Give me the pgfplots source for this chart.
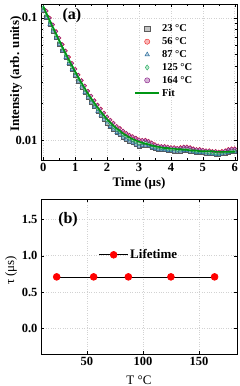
\documentclass[border=0pt]{standalone}
\usepackage{fontspec}
\setmainfont{Liberation Serif}
\usepackage{pgfplots}
\usepackage{pgfplotstable}
\pgfplotsset{compat=1.18}

\definecolor{c23}{RGB}{90,90,90}
\definecolor{c56}{RGB}{235,30,30}
\definecolor{c87}{RGB}{30,100,150}
\definecolor{c125}{RGB}{30,170,90}
\definecolor{c164}{RGB}{130,20,130}
\definecolor{fitc}{RGB}{0,150,20}

\pgfplotstableread{
t b hi lo mid
0.0 0.1239 0.1301 0.1152 0.1214
0.1 0.1087 0.1141 0.1011 0.1065
0.2 0.0954 0.1002 0.0887 0.0935
0.3 0.0839 0.0881 0.0780 0.0822
0.4 0.0739 0.0776 0.0687 0.0724
0.5 0.0653 0.0686 0.0607 0.0640
0.6 0.0577 0.0606 0.0537 0.0565
0.7 0.0512 0.0538 0.0476 0.0502
0.8 0.0455 0.0478 0.0423 0.0446
0.9 0.0406 0.0426 0.0378 0.0398
1.0 0.0363 0.0381 0.0338 0.0356
1.1 0.0325 0.0341 0.0302 0.0319
1.2 0.0293 0.0308 0.0272 0.0287
1.3 0.0265 0.0278 0.0246 0.0260
1.4 0.0240 0.0252 0.0223 0.0235
1.5 0.0219 0.0230 0.0204 0.0215
1.6 0.0201 0.0211 0.0187 0.0197
1.7 0.0185 0.0194 0.0172 0.0181
1.8 0.0171 0.0180 0.0159 0.0168
1.9 0.0159 0.0167 0.0148 0.0156
2.0 0.0148 0.0155 0.0138 0.0145
2.1 0.0139 0.0146 0.0129 0.0136
2.2 0.0131 0.0138 0.0122 0.0128
2.3 0.0124 0.0130 0.0115 0.0122
2.4 0.0119 0.0125 0.0111 0.0117
2.5 0.0113 0.0119 0.0105 0.0111
2.6 0.0109 0.0114 0.0101 0.0107
2.7 0.0105 0.0110 0.0098 0.0103
2.8 0.0102 0.0107 0.0095 0.0100
2.9 0.0099 0.0104 0.0092 0.0097
3.0 0.0097 0.0101 0.0089 0.0094
3.1 0.0095 0.0100 0.0090 0.0095
3.2 0.0093 0.0100 0.0091 0.0096
3.3 0.0092 0.0098 0.0090 0.0094
3.4 0.0090 0.0095 0.0087 0.0091
3.5 0.0089 0.0092 0.0085 0.0088
3.6 0.0088 0.0090 0.0084 0.0087
3.7 0.0087 0.0089 0.0083 0.0086
3.8 0.0086 0.0089 0.0083 0.0086
3.9 0.0086 0.0088 0.0082 0.0085
4.0 0.0085 0.0087 0.0082 0.0084
4.1 0.0085 0.0087 0.0081 0.0084
4.2 0.0084 0.0086 0.0081 0.0083
4.3 0.0084 0.0087 0.0081 0.0084
4.4 0.0083 0.0088 0.0082 0.0085
4.5 0.0083 0.0088 0.0082 0.0085
4.6 0.0082 0.0087 0.0081 0.0084
4.7 0.0082 0.0085 0.0080 0.0082
4.8 0.0082 0.0084 0.0079 0.0081
4.9 0.0081 0.0084 0.0079 0.0081
5.0 0.0081 0.0083 0.0079 0.0081
5.1 0.0081 0.0082 0.0078 0.0080
5.2 0.0081 0.0082 0.0077 0.0079
5.3 0.0081 0.0081 0.0077 0.0079
5.4 0.0080 0.0081 0.0076 0.0078
5.5 0.0080 0.0080 0.0076 0.0078
5.6 0.0080 0.0081 0.0077 0.0079
5.7 0.0080 0.0082 0.0078 0.0080
5.8 0.0080 0.0084 0.0079 0.0081
5.9 0.0080 0.0085 0.0080 0.0082
6.0 0.0080 0.0085 0.0080 0.0083
}\decay

\pgfplotstableread{
T tau
23 0.71
56 0.71
87 0.71
125 0.71
164 0.71
}\life

\pgfplotsset{
  common/.style={
    scale only axis,
    axis line style={line width=0.8pt},
    tick align=inside,
    tick style={black, line width=0.5pt},
    major tick length=3pt, minor tick length=1.8pt,
    /pgf/number format/assume math mode=true,
    ticklabel style={font=\bfseries\fontsize{12.5}{14}\selectfont},
    grid=major,
    grid style={gray!35, dotted, line width=0.6pt},
  },
  markleg/.style={legend image code/.code={
    \draw[mark repeat=2,mark phase=2,##1,mark size=2.6pt] plot coordinates {(0cm,0cm) (0.42cm,0cm) (0.84cm,0cm)};}},
  fitleg/.style={legend image code/.code={
    \draw[fitc, line width=1.8pt] (0cm,0cm) -- (0.84cm,0cm);}},
  lifeleg/.style={legend image code/.code={
    \draw[mark repeat=2,mark phase=2,##1] plot coordinates {(0cm,0cm) (0.5cm,0cm) (1cm,0cm)};}},
  fitline/.style={draw=fitc, line width=1.6pt, mark=none, fitleg},
}

\begin{document}
\begin{tikzpicture}
\begin{semilogyaxis}[common,
  set layers,
  at={(41pt,226pt)}, anchor=south west,
  width=196pt, height=156pt,
  xmin=-0.07, xmax=6.07, ymin=0.00686, ymax=0.130,
  xtick={0,1,2,3,4,5,6}, minor x tick num=1,
  ytick={0.01,0.1}, yticklabels={0.01,0.1},
  xlabel={\bfseries Time (μs)},
  ylabel={\bfseries Intensity (arb. units)},
  label style={font=\bfseries\fontsize{13}{15}\selectfont},
  xlabel style={at={(axis description cs:0.5,-0.147)}, anchor=center},
  ylabel style={at={(axis description cs:-0.128,0.55)}, anchor=center},
  legend style={at={(0.46,0.895)}, anchor=north west, draw=none, fill=none,
    font=\bfseries\fontsize{10.5}{12}\selectfont, row sep=0.4pt,
    legend cell align=left},
]
\addplot[only marks, markleg, mark=square*, mark size=1.8pt, draw=c23, fill=c23!45, fill opacity=0.8] table[x=t,y=lo] {\decay};
\addlegendentry{23 °C}
\addplot[only marks, markleg, mark=*, mark size=1.9pt, draw=c56, fill=c56!40, fill opacity=0.8] table[x=t,y=hi] {\decay};
\addlegendentry{56 °C}
\addplot[only marks, markleg, mark=triangle*, mark size=2.1pt, draw=c87, fill=c87!40, fill opacity=0.8] table[x=t,y=lo] {\decay};
\addlegendentry{87 °C}
\addplot[only marks, markleg, mark=diamond*, mark size=2.0pt, draw=c125, fill=c125!35, fill opacity=0.8] table[x=t,y=mid] {\decay};
\addlegendentry{125 °C}
\addplot[only marks, markleg, mark=*, mark size=1.6pt, draw=c164, fill=c164!40, fill opacity=0.8] table[x=t,y=hi] {\decay};
\addlegendentry{164 °C}
\addplot[fitline, on layer=axis foreground] table[x=t,y=b] {\decay};
\addlegendentry{Fit}
\node[font=\bfseries\fontsize{16}{18}\selectfont] at (rel axis cs:0.158,0.923) {(a)};
\end{semilogyaxis}

\begin{axis}[common,
  at={(41pt,32pt)}, anchor=south west,
  width=196pt, height=155pt,
  xmin=9, xmax=184, ymin=-0.35, ymax=1.78,
  xtick={50,100,150}, ytick={0,0.5,1,1.5},
  yticklabel style={/pgf/number format/.cd, fixed, fixed zerofill, precision=1},
  xlabel={T °C}, ylabel={τ (μs)},
  label style={font=\fontsize{13}{15}\selectfont},
  xlabel style={at={(axis description cs:0.5,-0.168)}, anchor=center},
  ylabel style={at={(axis description cs:-0.153,0.54)}, anchor=center},
  legend style={at={(0.28,0.64)}, anchor=west, draw=none, fill=none,
    font=\bfseries\fontsize{13}{15}\selectfont},
]
\addplot[black, line width=0.7pt, lifeleg, mark=*, mark size=3.4pt, mark options={draw=red, fill=red}] table[x=T,y=tau] {\life};
\addlegendentry{Lifetime}
\node[font=\bfseries\fontsize{16}{18}\selectfont] at (rel axis cs:0.138,0.865) {(b)};
\end{axis}
\pgfresetboundingbox
\path (0,0) rectangle (240pt,386pt);
\end{tikzpicture}
\end{document}
